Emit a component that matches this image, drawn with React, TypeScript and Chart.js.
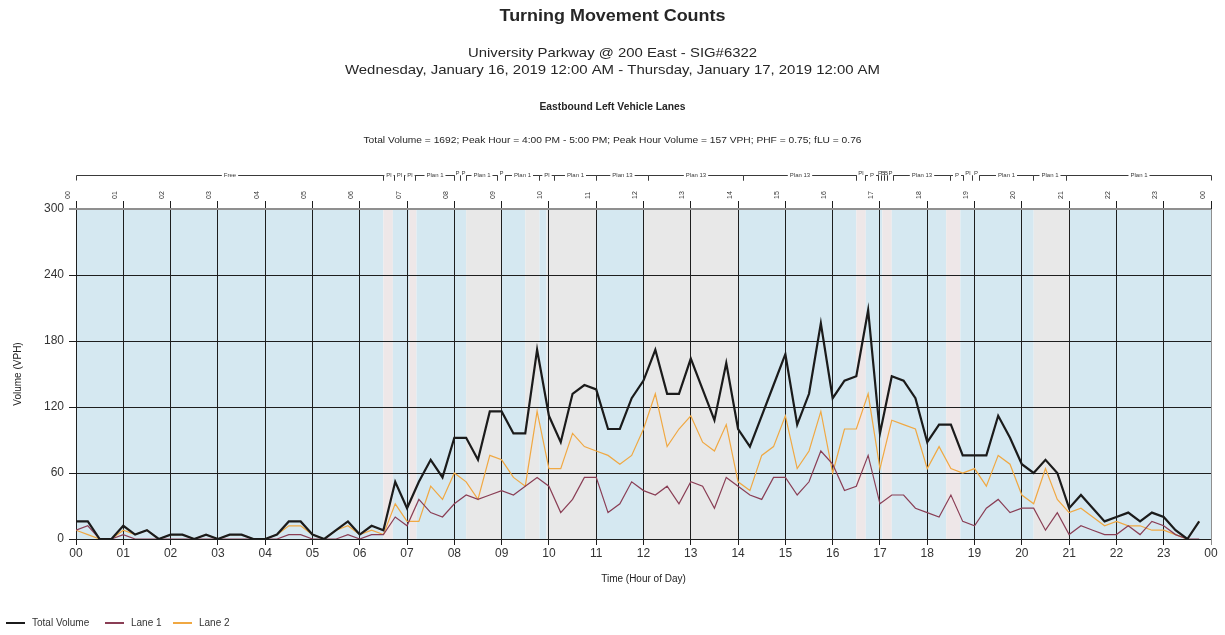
import React, { useEffect, useRef } from 'react';
import { Chart, registerables } from 'chart.js';

Chart.register(...registerables);

// ---------- text ----------
const TITLE = 'Turning Movement Counts';
const SUBTITLE_LINES = [
  'University Parkway @ 200 East - SIG#6322',
  'Wednesday, January 16, 2019 12:00 AM - Thursday, January 17, 2019 12:00 AM',
];
const APPROACH_TITLE = 'Eastbound Left Vehicle Lanes';
const STATS_LINE =
  'Total Volume = 1692; Peak Hour = 4:00 PM - 5:00 PM; Peak Hour Volume = 157 VPH; PHF = 0.75; fLU = 0.76';
const X_TITLE = 'Time (Hour of Day)';
const Y_TITLE = 'Volume (VPH)';

// ---------- axes ----------
const HOUR_LABELS = [
  '00', '01', '02', '03', '04', '05', '06', '07', '08', '09', '10', '11',
  '12', '13', '14', '15', '16', '17', '18', '19', '20', '21', '22', '23', '00',
];
const Y_MAX = 300;
const Y_STEP = 60;

// ---------- data (VPH per 15-minute interval, 00:00 .. 23:45) ----------
const totalVolume = [
  16, 16, 0, 0, 12, 4, 8, 0, 4, 4, 0, 4, 0, 4, 4, 0,
  0, 4, 16, 16, 4, 0, 8, 16, 4, 12, 8, 52, 28, 52, 72, 56,
  92, 92, 72, 116, 116, 96, 96, 172, 112, 88, 132, 140, 136, 100, 100, 128,
  144, 172, 132, 132, 164, 136, 108, 160, 100, 84, 112, 140, 168, 104, 132, 196,
  128, 144, 148, 208, 96, 148, 144, 128, 88, 104, 104, 76, 76, 76, 112, 92,
  68, 60, 72, 60, 28, 40, 28, 16, 20, 24, 16, 24, 20, 8, 0, 16,
];
const lane1 = [
  8, 12, 0, 0, 4, 0, 0, 0, 0, 0, 0, 0, 0, 0, 0, 0,
  0, 0, 4, 4, 0, 0, 0, 4, 0, 4, 4, 20, 12, 36, 24, 20,
  32, 40, 36, 40, 44, 40, 48, 56, 48, 24, 36, 56, 56, 24, 32, 52,
  44, 40, 48, 32, 52, 48, 28, 56, 48, 40, 36, 56, 56, 40, 52, 80,
  68, 44, 48, 76, 32, 40, 40, 28, 24, 20, 40, 16, 12, 28, 36, 24,
  28, 28, 8, 24, 4, 12, 8, 4, 4, 12, 4, 16, 12, 4, 0, 0,
];
const lane2 = [
  8, 4, 0, 0, 8, 4, 8, 0, 4, 4, 0, 4, 0, 4, 4, 0,
  0, 4, 12, 12, 4, 0, 8, 12, 4, 8, 4, 32, 16, 16, 48, 36,
  60, 52, 36, 76, 72, 56, 48, 116, 64, 64, 96, 84, 80, 76, 68, 76,
  100, 132, 84, 100, 112, 88, 80, 104, 52, 44, 76, 84, 112, 64, 80, 116,
  60, 100, 100, 132, 64, 108, 104, 100, 64, 84, 64, 60, 64, 48, 76, 68,
  40, 32, 64, 36, 24, 28, 20, 12, 16, 12, 12, 8, 8, 4, 0, 16,
];

// ---------- timing plan segments (top bracket axis), in hours ----------
const planStarts = [
  0, 6.5, 6.73, 6.93, 7.17, 8.0, 8.12, 8.25, 8.9, 9.07, 9.78, 10.1, 11.0, 12.1,
  14.1, 16.5, 16.68, 16.95, 17.02, 17.08, 17.15, 17.28, 18.48, 18.76, 18.94, 19.1, 20.24, 20.94,
];
const planEnds = [
  6.5, 6.73, 6.93, 7.17, 8.0, 8.12, 8.25, 8.9, 9.07, 9.78, 10.1, 11.0, 12.1, 14.1,
  16.5, 16.68, 16.95, 17.02, 17.08, 17.15, 17.28, 18.48, 18.76, 18.94, 19.1, 20.24, 20.94, 24,
];
const planLabels = [
  'Free', 'Pl', 'Pl', 'Pl', 'Plan 1', 'P', 'P', 'Plan 1', 'P', 'Plan 1', 'Pl', 'Plan 1', 'Plan 13', 'Plan 13',
  'Plan 13', 'Pl', 'P', 'P', 'B', 'B', 'P', 'Plan 13', 'P', 'Pl', 'P', 'Plan 1', 'Plan 1', 'Plan 1',
];

// ---------- background shading bands, in hours ----------
const bandStarts = [0, 6.5, 6.7, 7.05, 7.2, 8.25, 9.0, 9.5, 9.8, 9.95, 11.0, 12.0, 14.0, 16.5, 16.7, 17.05, 17.25, 18.4, 18.7, 20.25, 21.0];
const bandEnds = [6.5, 6.7, 7.05, 7.2, 8.25, 9.0, 9.5, 9.8, 9.95, 11.0, 12.0, 14.0, 16.5, 16.7, 17.05, 17.25, 18.4, 18.7, 20.25, 21.0, 24];
const bandKinds = ['b', 'p', 'b', 'p', 'b', 'g', 'b', 'g', 'b', 'g', 'b', 'g', 'b', 'p', 'b', 'p', 'b', 'p', 'b', 'g', 'b'];

const BAND_COLORS: Record<string, string> = {
  b: 'rgb(213,232,241)',
  g: 'rgb(232,232,232)',
  p: 'rgb(238,231,232)',
};

const COLOR_TOTAL = '#1b1b1b';
const COLOR_LANE1 = '#8a3e55';
const COLOR_LANE2 = '#f0a842';
const GRID_DARK = '#1e1e1e';
const GRID_EDGE = '#8f8f8f';
const FONT = '"Liberation Sans", Arial, sans-serif';

const INTERVAL_HOURS = 0.25;
const toPoints = (values: number[]) => values.map((v, i) => ({ x: i * INTERVAL_HOURS, y: v }));

function drawFitted(ctx: CanvasRenderingContext2D, text: string, cx: number, cy: number, font: string, width: number) {
  ctx.save();
  ctx.font = font;
  ctx.fillStyle = '#262626';
  ctx.textAlign = 'center';
  ctx.textBaseline = 'middle';
  const w = ctx.measureText(text).width;
  ctx.translate(cx, cy);
  ctx.scale(width / w, 1);
  ctx.fillText(text, 0, 0);
  ctx.restore();
}

const bandsPlugin = {
  id: 'bands',
  beforeDraw(chart: any) {
    const { ctx, chartArea, scales } = chart;
    ctx.save();
    ctx.fillStyle = '#ffffff';
    ctx.fillRect(0, 0, chart.width, chart.height);
    const x = scales.x;
    for (let i = 0; i < bandStarts.length; i++) {
      const x1 = x.getPixelForValue(bandStarts[i]);
      const x2 = x.getPixelForValue(bandEnds[i]);
      ctx.fillStyle = BAND_COLORS[bandKinds[i]];
      ctx.fillRect(x1, chartArea.top, x2 - x1, chartArea.bottom - chartArea.top);
    }
    ctx.restore();
  },
};

const decorPlugin = {
  id: 'decor',
  afterDraw(chart: any) {
    const { ctx, chartArea, scales } = chart;
    const x = scales.x;
    const W = chart.width;

    // headers
    drawFitted(ctx, TITLE, W / 2, 17, `bold 16px ${FONT}`, 226);
    drawFitted(ctx, SUBTITLE_LINES[0], W / 2, 53, `13.5px ${FONT}`, 289);
    drawFitted(ctx, SUBTITLE_LINES[1], W / 2, 70, `13.5px ${FONT}`, 535);
    drawFitted(ctx, APPROACH_TITLE, W / 2, 107, `bold 10px ${FONT}`, 146);
    drawFitted(ctx, STATS_LINE, W / 2, 140, `9.5px ${FONT}`, 498);

    // plan bracket axis
    ctx.save();
    ctx.strokeStyle = '#3a3a3a';
    ctx.fillStyle = '#3a3a3a';
    ctx.lineWidth = 1;
    ctx.font = `6px ${FONT}`;
    ctx.textAlign = 'center';
    ctx.textBaseline = 'middle';
    const yLine = 175.5;
    for (let i = 0; i < planStarts.length; i++) {
      const x1 = Math.round(x.getPixelForValue(planStarts[i])) + 0.5;
      const x2 = Math.round(x.getPixelForValue(planEnds[i])) + 0.5;
      const mid = (x1 + x2) / 2;
      const tw = ctx.measureText(planLabels[i]).width;
      ctx.beginPath();
      ctx.moveTo(x1, yLine + 5);
      ctx.lineTo(x1, yLine);
      const l = mid - tw / 2 - 2;
      const r = mid + tw / 2 + 2;
      if (l > x1) ctx.lineTo(l, yLine);
      ctx.moveTo(x2, yLine + 5);
      ctx.lineTo(x2, yLine);
      if (r < x2) ctx.lineTo(r, yLine);
      ctx.stroke();
      ctx.fillText(planLabels[i], mid, yLine - (x2 - x1 < tw + 4 ? 2 : 0));
    }
    ctx.restore();

    // axis titles
    ctx.save();
    ctx.fillStyle = '#222';
    ctx.font = `10px ${FONT}`;
    ctx.textAlign = 'center';
    ctx.textBaseline = 'middle';
    ctx.fillText(X_TITLE, (chartArea.left + chartArea.right) / 2, 579);
    ctx.translate(18, (chartArea.top + chartArea.bottom) / 2);
    ctx.rotate(-Math.PI / 2);
    ctx.fillText(Y_TITLE, 0, 0);
    ctx.restore();

    // legend
    const items = [
      { label: 'Total Volume', color: COLOR_TOTAL, x: 6 },
      { label: 'Lane 1', color: COLOR_LANE1, x: 105 },
      { label: 'Lane 2', color: COLOR_LANE2, x: 173 },
    ];
    ctx.save();
    ctx.font = `10px ${FONT}`;
    ctx.textAlign = 'left';
    ctx.textBaseline = 'middle';
    const ly = 623;
    for (const it of items) {
      ctx.strokeStyle = it.color;
      ctx.lineWidth = 2;
      ctx.beginPath();
      ctx.moveTo(it.x, ly);
      ctx.lineTo(it.x + 19, ly);
      ctx.stroke();
      ctx.fillStyle = '#333';
      ctx.fillText(it.label, it.x + 26, ly);
    }
    ctx.restore();
  },
};

const hourTick = (v: any) => HOUR_LABELS[Number(v)] ?? '';

export default function App() {
  const canvasRef = useRef<HTMLCanvasElement | null>(null);

  useEffect(() => {
    document.body.style.margin = '0';
    const canvas = canvasRef.current;
    if (!canvas) return;
    const chart = new Chart(canvas, {
      type: 'line',
      data: {
        datasets: [
          { label: 'Total Volume', data: toPoints(totalVolume), borderColor: COLOR_TOTAL, borderWidth: 2.2 },
          { label: 'Lane 1', data: toPoints(lane1), borderColor: COLOR_LANE1, borderWidth: 1.2 },
          { label: 'Lane 2', data: toPoints(lane2), borderColor: COLOR_LANE2, borderWidth: 1.2 },
        ],
      },
      options: {
        animation: false,
        responsive: false,
        devicePixelRatio: 1,
        layout: { padding: { top: 150, right: 14, left: 0, bottom: 0 } },
        elements: { point: { radius: 0 }, line: { tension: 0, fill: false } },
        plugins: { legend: { display: false }, tooltip: { enabled: false }, title: { display: false } },
        scales: {
          x: {
            type: 'linear',
            position: 'bottom',
            min: 0,
            max: 24,
            border: { display: false },
            grid: {
              color: (c: any) => (c.tick && c.tick.value === 24 ? GRID_EDGE : GRID_DARK),
              lineWidth: 1,
              tickLength: 6,
            },
            ticks: {
              stepSize: 1,
              autoSkip: false,
              maxRotation: 0,
              minRotation: 0,
              padding: 1,
              color: '#333',
              font: { family: FONT, size: 12 },
              callback: hourTick,
            },
            afterFit: (s: any) => { s.height = 96; },
          },
          x2: {
            type: 'linear',
            position: 'top',
            min: 0,
            max: 24,
            border: { display: false },
            grid: { drawOnChartArea: false, tickLength: 8, color: GRID_DARK },
            ticks: {
              stepSize: 1,
              autoSkip: false,
              maxRotation: 90,
              minRotation: 90,
              padding: 2,
              color: '#333',
              font: { family: FONT, size: 7 },
              callback: hourTick,
            },
            afterFit: (s: any) => { s.height = 59; },
          },
          y: {
            min: 0,
            max: Y_MAX,
            border: { display: false },
            grid: {
              color: (c: any) => (c.tick && c.tick.value === Y_MAX ? GRID_EDGE : GRID_DARK),
              lineWidth: (c: any) => (c.tick && c.tick.value === Y_MAX ? 2 : 1),
              tickLength: 7,
            },
            ticks: {
              stepSize: Y_STEP,
              padding: 5,
              color: '#333',
              font: { family: FONT, size: 12 },
            },
            afterFit: (s: any) => { s.width = 76; },
          },
        },
      },
      plugins: [bandsPlugin, decorPlugin],
    });
    return () => chart.destroy();
  }, []);

  return (
    <div style={{ width: 1225, height: 635, background: '#fff' }}>
      <canvas ref={canvasRef} width={1225} height={635} style={{ display: 'block' }} />
    </div>
  );
}
